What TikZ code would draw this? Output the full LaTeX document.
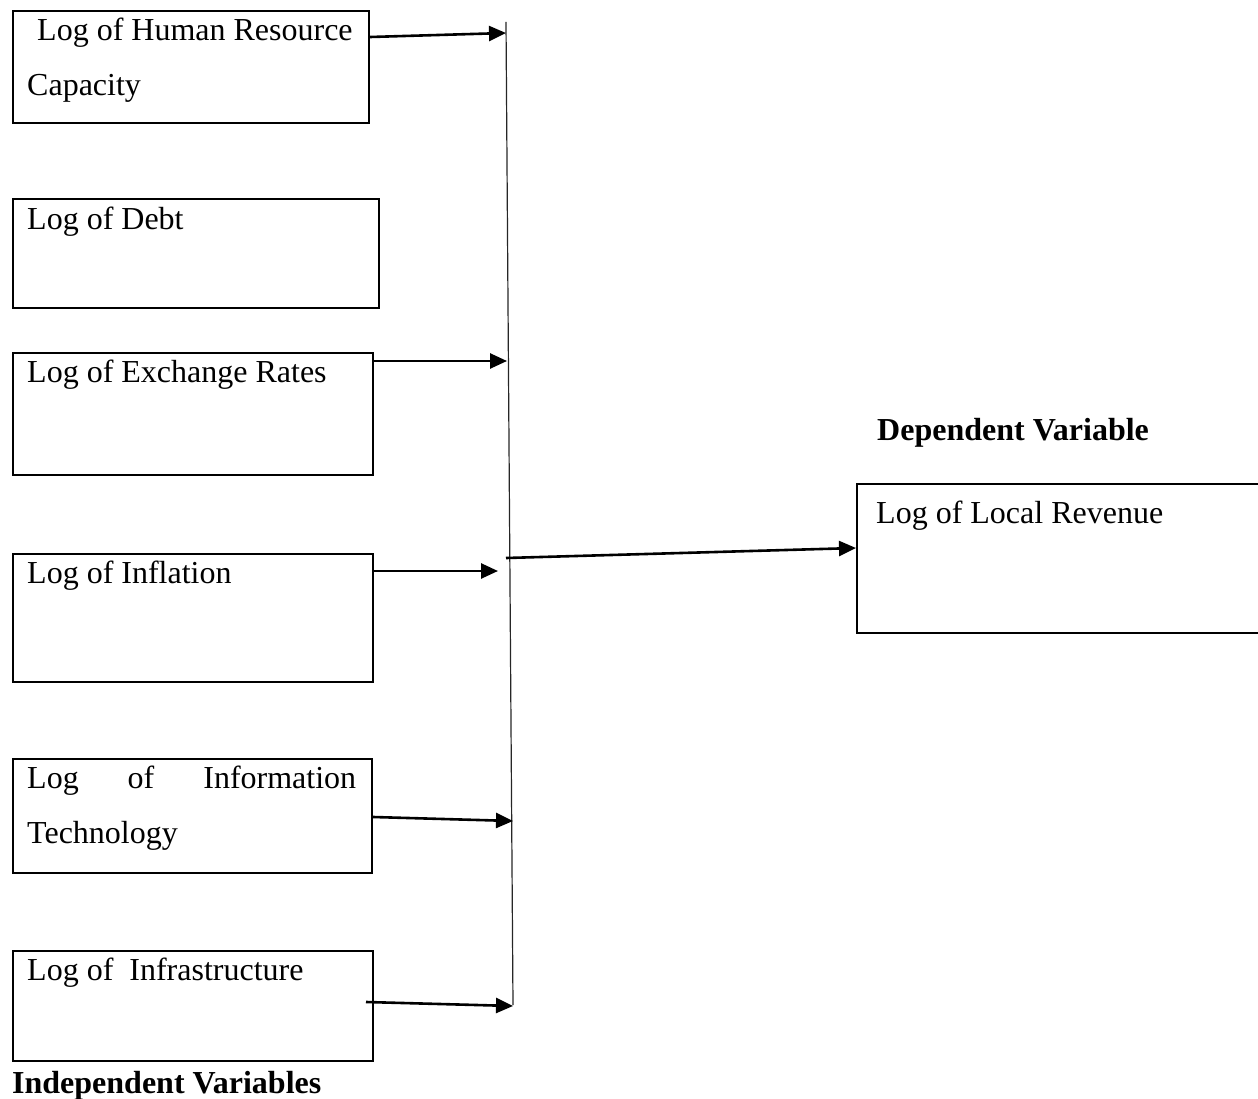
\documentclass[tikz,border=0pt]{standalone}
\usepackage{fontspec}
\setmainfont{Liberation Serif}
\usetikzlibrary{arrows.meta}
\tikzset{
  varbox/.style={draw, line width=2.2pt, anchor=north west, inner sep=0pt},
  lbl/.style={anchor=base west, inner sep=0pt},
  arr/.style={line width=2.6pt, -{Triangle[length=17pt,width=15pt]}},
  spine/.style={line width=1.2pt, black!85}
}
\begin{document}
\begin{tikzpicture}[x=1pt,y=-1pt,font=\fontsize{32}{38}\selectfont]
\useasboundingbox (0,0) rectangle (1258,1099);
\clip (0,0) rectangle (1258,1099);
% independent variable boxes
\node[varbox, minimum width=356pt, minimum height=112pt] (b1) at (12,10) {};
\node[varbox, minimum width=366pt, minimum height=109pt] (b2) at (12,198) {};
\node[varbox, minimum width=360pt, minimum height=122pt] (b3) at (12,352) {};
\node[varbox, minimum width=360pt, minimum height=128pt] (b4) at (12,553) {};
\node[varbox, minimum width=359pt, minimum height=114pt] (b5) at (12,758) {};
\node[varbox, minimum width=360pt, minimum height=110pt] (b6) at (12,950) {};
% dependent variable box
\node[varbox, line width=1.9pt, minimum width=430pt, minimum height=149pt] (rb) at (856,483) {};
% texts
\node[lbl] (t1a) at (37,41) {Log of Human Resource};
\node[lbl] (t1b) at (27,96) {Capacity};
\node[lbl] (t2) at (27,230) {Log of Debt};
\node[lbl] (t3) at (27,382) {Log of Exchange Rates};
\node[lbl] (t4) at (27,583) {Log of Inflation};
\node[lbl] (t5a) at (27,788) {\hbox to 329pt{Log\hfill of\hfill Information}};
\node[lbl] (t5b) at (27,843) {Technology};
\node[lbl] (t6) at (27,980) {Log of\ \ Infrastructure};
\node[lbl] (tr) at (876,523) {Log of Local Revenue};
\node[lbl, font=\fontsize{32}{38}\selectfont\bfseries] (hind) at (12,1093) {Independent Variables};
\node[lbl, font=\fontsize{32}{38}\selectfont\bfseries] (hdep) at (877,440) {Dependent Variable};
% spine
\coordinate (vtop) at (506,22);
\coordinate (vbot) at (513,1005);
\draw[spine] (vtop) -- (vbot);
% arrow targets
\coordinate (a1) at (506,33);
\coordinate (a3) at (507,361);
\coordinate (a4) at (498,571);
\coordinate (a5) at (513,821);
\coordinate (a6) at (513,1006);
\coordinate (vout) at (506,558);
\coordinate (s6) at (366,1002);
% arrows
\draw[arr] (b1.east |- 0,37) -- (a1);
\draw[arr] (b3.east |- 0,361) -- (a3);
\draw[arr] (b4.east |- 0,571) -- (a4);
\draw[arr] (b5.east |- 0,817) -- (a5);
\draw[arr] (s6) -- (a6);
\draw[arr] (vout) -- (rb.west |- 0,548);
\end{tikzpicture}
\end{document}
